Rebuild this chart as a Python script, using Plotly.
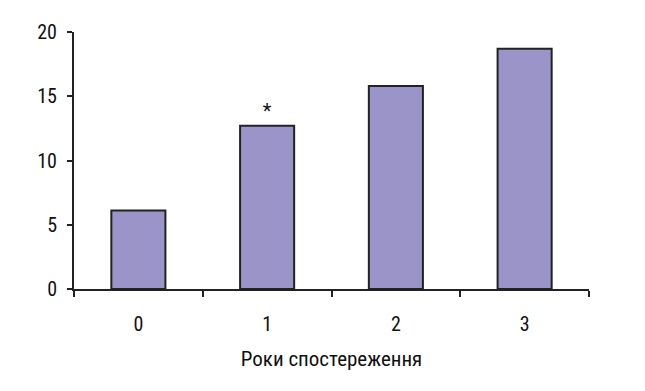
import plotly.graph_objects as go

categories = ["0", "1", "2", "3"]
values = [6.1, 12.7, 15.8, 18.7]
marks = ["", "*", "", ""]
y_ticks = [0, 5, 10, 15, 20]
x_title = "Роки спостереження"

FONT = "Liberation Sans Narrow, Arial Narrow, Roboto Condensed, Liberation Sans, sans-serif"

fig = go.Figure()
fig.add_trace(go.Bar(
    x=categories, y=values,
    width=0.42,
    marker=dict(color="#9A94C8", line=dict(color="#222222", width=2)),
    text=marks, textposition="outside",
    textfont=dict(size=20, color="#111111", family=FONT),
    cliponaxis=False,
))

fig.update_layout(
    width=629, height=375,
    margin=dict(l=66, r=48, t=17, b=94),
    paper_bgcolor="white", plot_bgcolor="white",
    showlegend=False,
    font=dict(family=FONT, color="#111111", size=20),
    xaxis=dict(
        type="category", tickson="boundaries",
        showline=True, linecolor="#222222", linewidth=2,
        ticks="outside", ticklen=6, tickwidth=2, tickcolor="#222222",
        showgrid=False, zeroline=False,
        tickfont=dict(size=20),
        ticklabelstandoff=16,
        title=dict(text=x_title, font=dict(size=21), standoff=16),
    ),
    yaxis=dict(
        range=[0, 20], tickvals=y_ticks,
        showline=True, linecolor="#222222", linewidth=2,
        ticks="outside", ticklen=5, tickwidth=2, tickcolor="#222222",
        showgrid=False, zeroline=False,
        tickfont=dict(size=20),
        ticklabelstandoff=6,
    ),
)

fig.write_html("out.html")
